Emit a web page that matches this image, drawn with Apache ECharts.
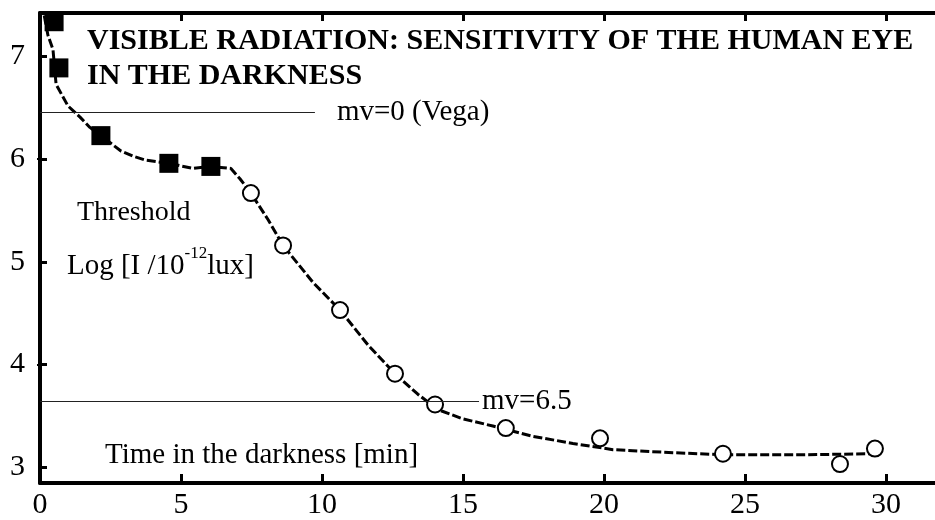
<!DOCTYPE html>
<html>
<head>
<meta charset="utf-8">
<script src="https://cdn.jsdelivr.net/npm/echarts/dist/echarts.min.js"></script>
<style>html,body{margin:0;padding:0;background:#fff;}#c{width:935px;height:520px;}</style>
</head>
<body>
<div id="c"></div>
<script>
// ---- data ----
const squareX = [0.50, 0.67, 2.16, 4.57, 6.06];
const squareY = [7.34, 6.89, 6.23, 5.96, 5.93];
const circleX = [7.48, 8.62, 10.64, 12.59, 14.01, 16.52, 19.86, 24.22, 28.37, 29.61];
const circleY = [5.67, 5.16, 4.53, 3.91, 3.61, 3.38, 3.28, 3.13, 3.03, 3.18];
const curveX = [0.15, 0.28, 0.46, 0.57, 0.99, 1.42, 1.77, 2.16, 2.87, 3.30, 3.76, 4.57, 5.43, 6.06, 6.77, 7.09, 7.48, 8.09, 8.62, 9.68, 10.64, 11.63, 12.59, 13.40, 14.11, 15.0, 16.06, 17.48, 18.90, 20.32, 22.45, 24.22, 27.06, 29.54];
const curveY = [7.40, 7.21, 7.07, 6.73, 6.52, 6.41, 6.31, 6.23, 6.08, 6.03, 5.99, 5.96, 5.91, 5.93, 5.91, 5.81, 5.67, 5.41, 5.16, 4.80, 4.53, 4.19, 3.91, 3.71, 3.56, 3.47, 3.40, 3.30, 3.23, 3.17, 3.14, 3.12, 3.12, 3.13];
const refLineY = [6.46, 3.64];
const refLineEnd = [9.75, 15.57];
const refLabels = ['mv=0 (Vega)', 'mv=6.5'];
const refLabelGap = [22, 3];
const xTicks = [0, 5, 10, 15, 20, 25, 30];
const topTicks = [5, 10, 15, 20, 25, 30];
const yTicks = [3, 4, 5, 6, 7];
const rightTicks = [4, 6];
const titleLines = ['VISIBLE RADIATION: SENSITIVITY OF THE HUMAN EYE', 'IN THE DARKNESS'];

const SERIF = '"Liberation Serif", "Times New Roman", serif';
const zip = (a, b) => a.map((v, i) => [v, b[i]]);

const chart = echarts.init(document.getElementById('c'));
const X_MIN = 0, X_MAX = 31.74, Y_MIN = 2.845, Y_MAX = 7.425;

chart.setOption({
  animation: false,
  backgroundColor: '#fff',
  title: {
    text: titleLines.join('\n'),
    left: 87, top: 24, padding: 0,
    textStyle: { fontFamily: SERIF, fontWeight: 'bold', fontSize: 30, lineHeight: 35, color: '#000' }
  },
  grid: { left: 40, right: 0, top: 13, bottom: 33 },
  xAxis: [{
    type: 'value', min: X_MIN, max: X_MAX, position: 'bottom',
    axisLine: { lineStyle: { color: '#000', width: 4 } },
    axisTick: { inside: true, length: 9, lineStyle: { color: '#000', width: 3 }, customValues: xTicks },
    axisLabel: { customValues: xTicks, margin: 7, color: '#000', fontFamily: SERIF, fontSize: 30 },
    splitLine: { show: false }
  }, {
    type: 'value', min: X_MIN, max: X_MAX, position: 'top',
    axisLine: { lineStyle: { color: '#000', width: 4 } },
    axisTick: { inside: true, length: 8, lineStyle: { color: '#000', width: 3 }, customValues: topTicks },
    axisLabel: { show: false },
    splitLine: { show: false }
  }],
  yAxis: [{
    type: 'value', min: Y_MIN, max: Y_MAX, position: 'left',
    axisLine: { show: true, lineStyle: { color: '#000', width: 4 } },
    axisTick: { show: true, inside: true, length: 7, lineStyle: { color: '#000', width: 3 }, customValues: yTicks },
    axisLabel: { customValues: yTicks, margin: 15, color: '#000', fontFamily: SERIF, fontSize: 30 },
    splitLine: { show: false }
  }, {
    type: 'value', min: Y_MIN, max: Y_MAX, position: 'right',
    axisLine: { show: false },
    axisTick: { show: true, inside: true, length: 3, lineStyle: { color: '#000', width: 2 }, customValues: rightTicks },
    axisLabel: { show: false },
    splitLine: { show: false }
  }],
  series: [{
    type: 'line',
    data: zip(curveX, curveY),
    showSymbol: false,
    z: 2,
    lineStyle: { color: '#000', width: 3, type: [9, 3] },
    markLine: {
      silent: true, symbol: ['none', 'none'],
      lineStyle: { color: '#222', width: 1, type: 'solid' },
      label: { position: 'end', color: '#000', fontFamily: SERIF, fontSize: 29 },
      data: refLineY.map((y, i) => [
        { coord: [X_MIN, y], label: { formatter: refLabels[i], distance: refLabelGap[i] } },
        { coord: [refLineEnd[i], y] }
      ])
    }
  }, {
    type: 'scatter',
    data: zip(squareX, squareY),
    symbol: 'rect', symbolSize: 19, z: 3,
    itemStyle: { color: '#000', opacity: 1 }
  }, {
    type: 'scatter',
    data: zip(circleX, circleY),
    symbol: 'circle', symbolSize: 16, z: 3,
    itemStyle: { color: '#fff', borderColor: '#000', borderWidth: 2, opacity: 1 }
  }],
  graphic: [{
    type: 'text', x: 77, y: 213,
    style: { text: 'Threshold', fill: '#000', font: '28px ' + SERIF, verticalAlign: 'middle' }
  }, {
    type: 'text', x: 67, y: 263,
    style: {
      text: '{m|Log [I /10}{s|-12}{m|lux]}', verticalAlign: 'middle',
      rich: {
        m: { fontFamily: SERIF, fontSize: 29, color: '#000', lineHeight: 36, verticalAlign: 'bottom' },
        s: { fontFamily: SERIF, fontSize: 17, color: '#000', lineHeight: 36, verticalAlign: 'top' }
      }
    }
  }, {
    type: 'text', x: 105, y: 455,
    style: { text: 'Time in the darkness [min]', fill: '#000', font: '29px ' + SERIF, verticalAlign: 'middle' }
  }]
});
</script>
</body>
</html>
